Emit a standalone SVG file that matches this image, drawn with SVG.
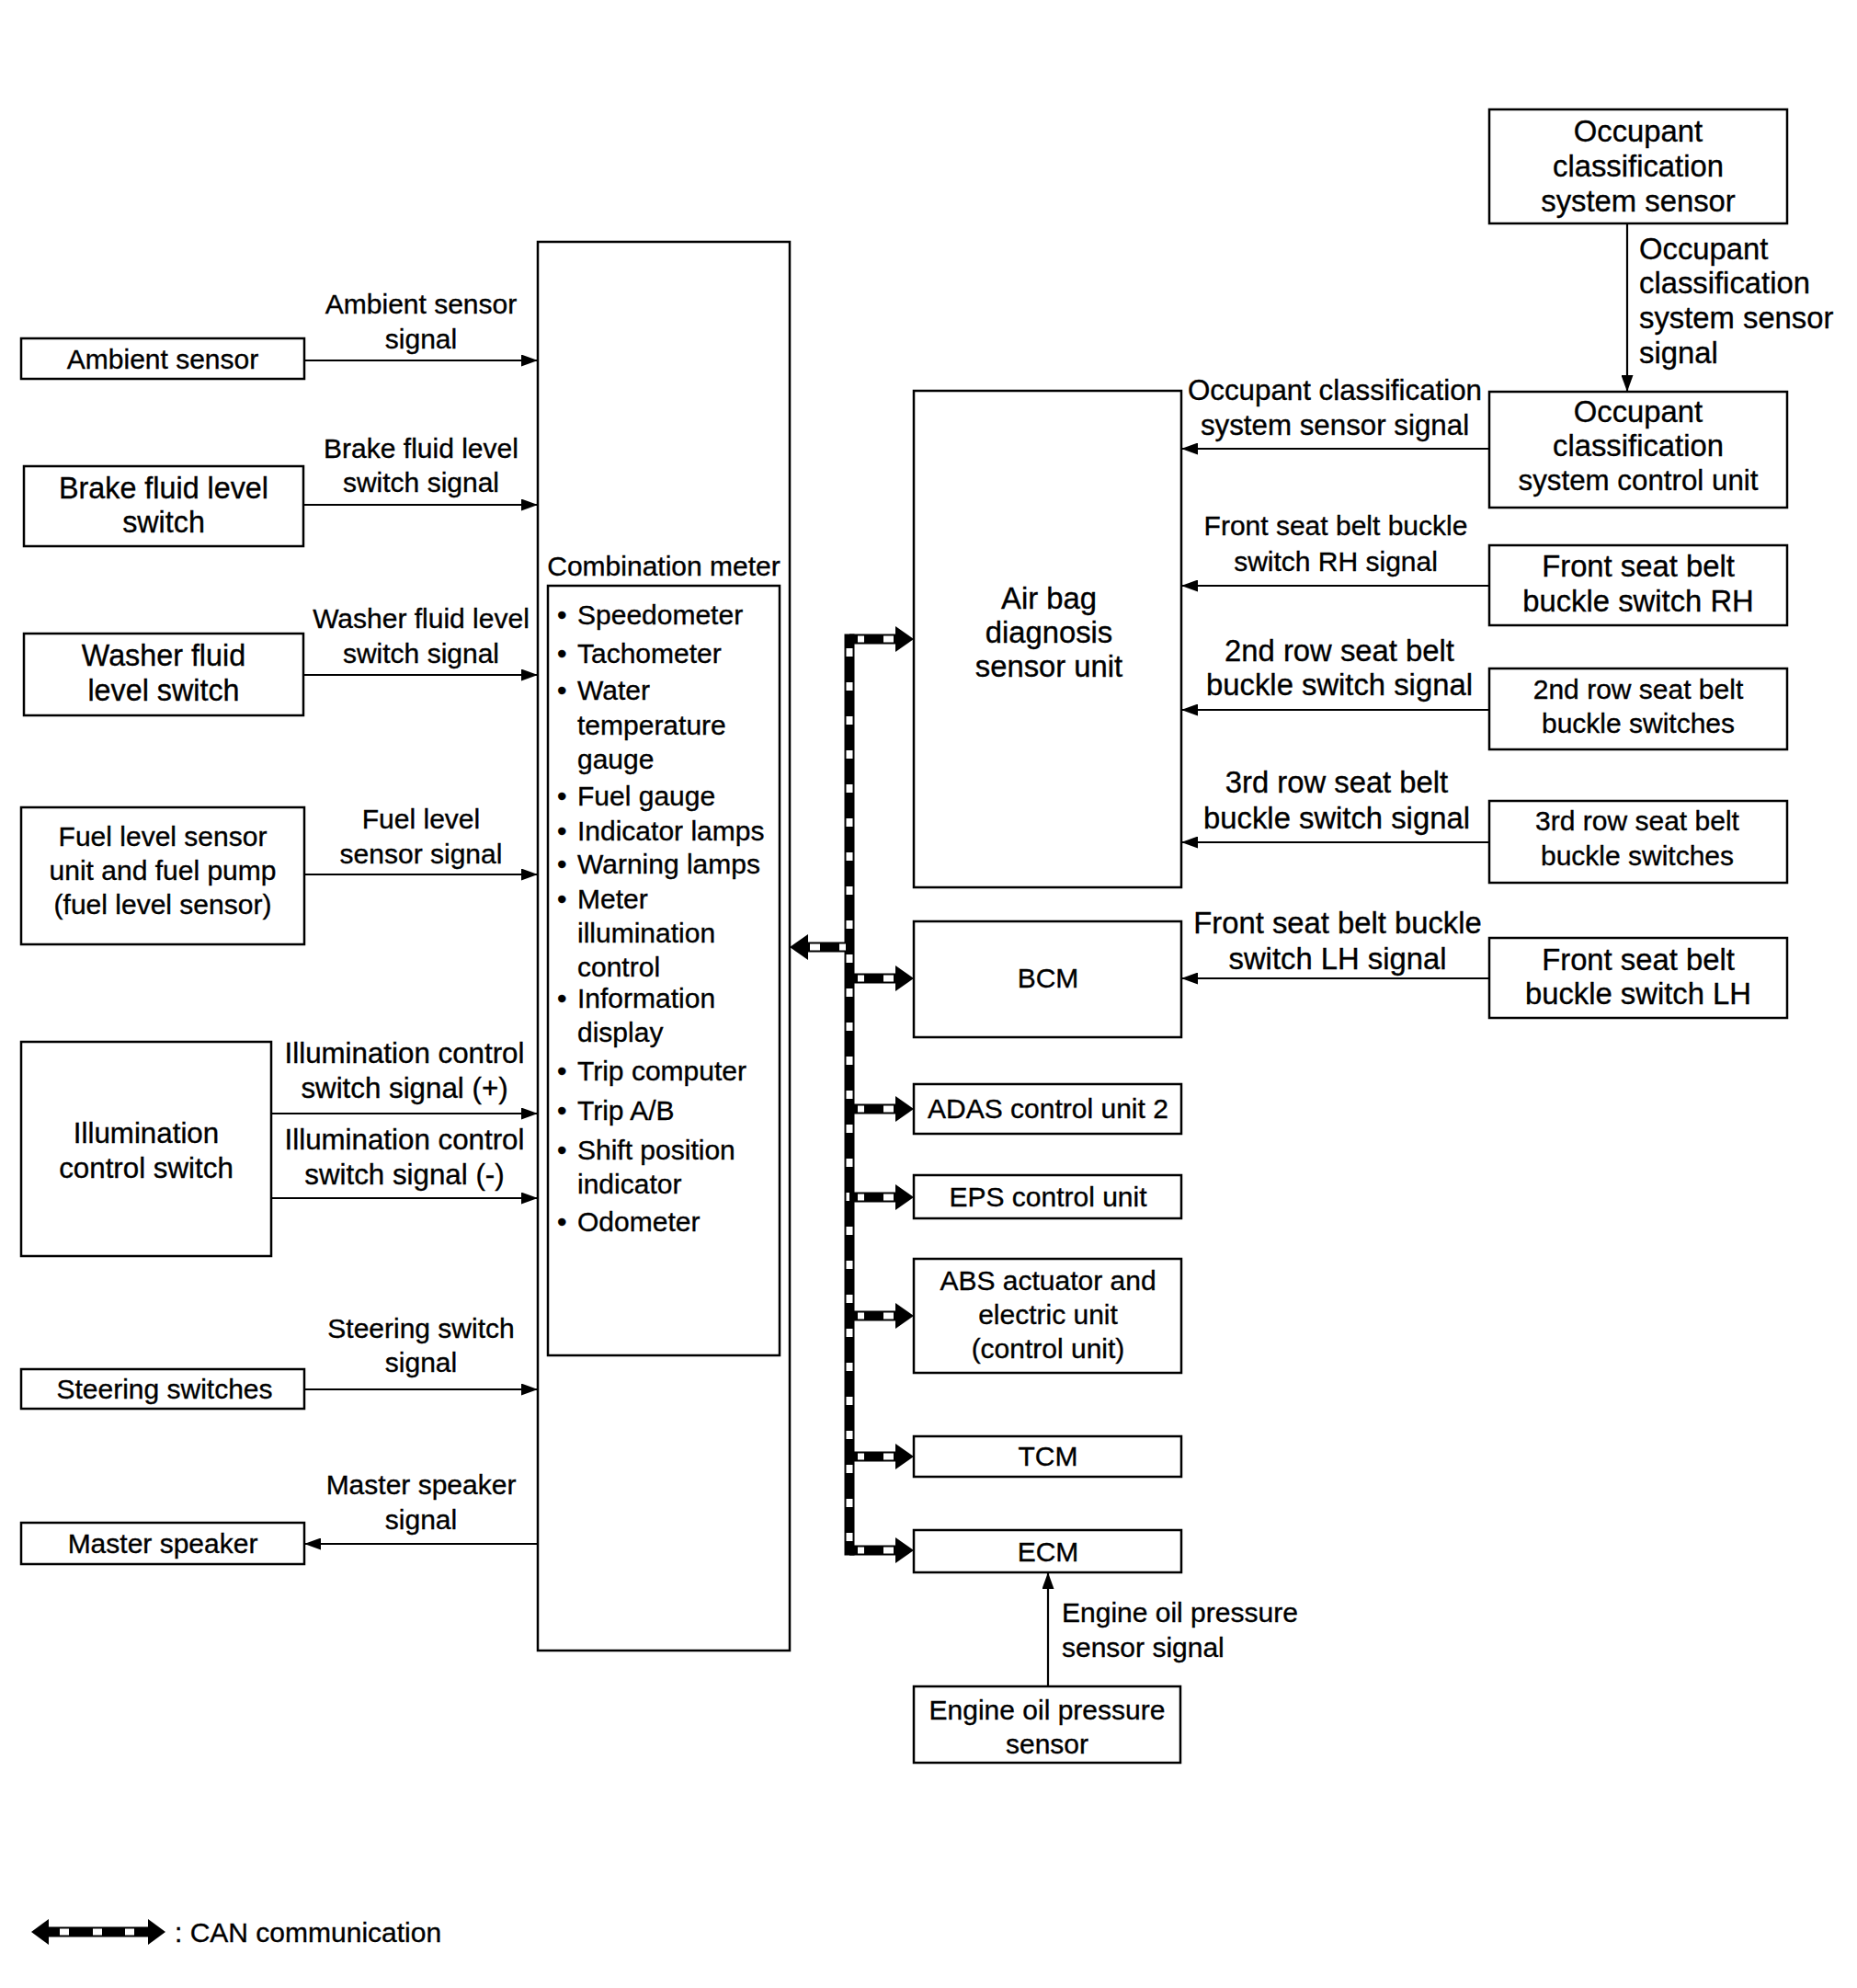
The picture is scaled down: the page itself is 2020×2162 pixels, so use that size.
<svg xmlns="http://www.w3.org/2000/svg" xmlns:xlink="http://www.w3.org/1999/xlink" width="2020" height="2162" viewBox="0 0 2020 2162">
<style>
text{font-family:"Liberation Sans",Arial,Helvetica,sans-serif;font-size:30px;fill:#000;stroke:#000;stroke-width:0.35}
.c{text-anchor:middle}
.s31{font-size:31.3px}
.s32{font-size:32.3px}
.s33{font-size:32.8px}
.box{fill:#fff;stroke:#000;stroke-width:2.5}
.ln{fill:none;stroke:#000;stroke-width:2.2;marker-end:url(#ah)}
</style>
<defs>
<marker id="ah" markerUnits="userSpaceOnUse" markerWidth="18" markerHeight="13" refX="18" refY="6.5" orient="auto">
<path d="M0,0 L18,6.5 L0,13 z" fill="#000"/>
</marker>
<g id="canR">
<rect x="0" y="-5.5" width="51" height="11" fill="#000"/>
<path d="M50,-14 L70,0 L50,14 z" fill="#000"/>
<rect x="9" y="-3.5" width="7" height="7" fill="#fff"/>
<rect x="37" y="-3.5" width="11" height="7" fill="#fff"/>
</g>
</defs>
<rect width="2020" height="2162" fill="#fff"/>

<g id="connectors">
<line class="ln" x1="331" y1="392" x2="585" y2="392"/>
<line class="ln" x1="330" y1="549" x2="585" y2="549"/>
<line class="ln" x1="330" y1="734" x2="585" y2="734"/>
<line class="ln" x1="331" y1="951" x2="585" y2="951"/>
<line class="ln" x1="295" y1="1211" x2="585" y2="1211"/>
<line class="ln" x1="295" y1="1303" x2="585" y2="1303"/>
<line class="ln" x1="331" y1="1511" x2="585" y2="1511"/>
<line class="ln" x1="585" y1="1679" x2="331" y2="1679"/>
<line class="ln" x1="1770" y1="243" x2="1770" y2="426"/>
<line class="ln" x1="1620" y1="488" x2="1285" y2="488"/>
<line class="ln" x1="1620" y1="637" x2="1285" y2="637"/>
<line class="ln" x1="1620" y1="772" x2="1285" y2="772"/>
<line class="ln" x1="1620" y1="916" x2="1285" y2="916"/>
<line class="ln" x1="1620" y1="1064" x2="1285" y2="1064"/>
<line class="ln" x1="1140" y1="1834" x2="1140" y2="1710"/>
<g id="can-bus">
<line x1="924" y1="689.5" x2="924" y2="1691.5" stroke="#000" stroke-width="11"/>
<line x1="924" y1="705" x2="924" y2="1680" stroke="#fff" stroke-width="7" stroke-dasharray="9 28"/>
<use xlink:href="#canR" x="924" y="695"/>
<use xlink:href="#canR" x="924" y="1064"/>
<use xlink:href="#canR" x="924" y="1206"/>
<use xlink:href="#canR" x="924" y="1302"/>
<use xlink:href="#canR" x="924" y="1431"/>
<use xlink:href="#canR" x="924" y="1584"/>
<use xlink:href="#canR" x="924" y="1686"/>
<use xlink:href="#canR" transform="translate(929,1030) scale(-1,1)"/>
</g>
</g>

<g id="labels">
<text class="c" x="458" y="341">Ambient sensor</text>
<text class="c" x="458" y="379">signal</text>
<text class="c" x="458" y="498">Brake fluid level</text>
<text class="c" x="458" y="535">switch signal</text>
<text class="c" x="458" y="683">Washer fluid level</text>
<text class="c" x="458" y="721">switch signal</text>
<text class="c" x="458" y="901">Fuel level</text>
<text class="c" x="458" y="939">sensor signal</text>
<text class="c s31" x="440" y="1156">Illumination control</text>
<text class="c s31" x="440" y="1194">switch signal (+)</text>
<text class="c s31" x="440" y="1250">Illumination control</text>
<text class="c s31" x="440" y="1288">switch signal (-)</text>
<text class="c" x="458" y="1455">Steering switch</text>
<text class="c" x="458" y="1492">signal</text>
<text class="c" x="458" y="1625">Master speaker</text>
<text class="c" x="458" y="1663">signal</text>
<text class="s33" x="1783" y="282">Occupant</text>
<text class="s33" x="1783" y="319">classification</text>
<text class="s33" x="1783" y="357">system sensor</text>
<text class="s33" x="1783" y="395">signal</text>
<text class="c s31" x="1452" y="435">Occupant classification</text>
<text class="c s31" x="1452" y="473">system sensor signal</text>
<text class="c" x="1453" y="582">Front seat belt buckle</text>
<text class="c" x="1453" y="621">switch RH signal</text>
<text class="c s33" x="1457" y="719">2nd row seat belt</text>
<text class="c s33" x="1457" y="756">buckle switch signal</text>
<text class="c s33" x="1454" y="862">3rd row seat belt</text>
<text class="c s33" x="1454" y="901">buckle switch signal</text>
<text class="c s33" x="1455" y="1015">Front seat belt buckle</text>
<text class="c s33" x="1455" y="1054">switch LH signal</text>
<text x="1155" y="1764">Engine oil pressure</text>
<text x="1155" y="1802">sensor signal</text>
</g>

<g id="ambient-sensor"><rect class="box" x="23" y="368" width="308" height="44"/><text class="c" x="177" y="401">Ambient sensor</text></g>
<g id="brake-fluid"><rect class="box" x="26" y="507" width="304" height="87"/><text class="c s32" x="178" y="542">Brake fluid level</text><text class="c s32" x="178" y="579">switch</text></g>
<g id="washer-fluid"><rect class="box" x="26" y="689" width="304" height="89"/><text class="c s32" x="178" y="724">Washer fluid</text><text class="c s32" x="178" y="762">level switch</text></g>
<g id="fuel-level"><rect class="box" x="23" y="878" width="308" height="149"/><text class="c" x="177" y="920">Fuel level sensor</text><text class="c" x="177" y="957">unit and fuel pump</text><text class="c" x="177" y="994">(fuel level sensor)</text></g>
<g id="illumination-switch"><rect class="box" x="23" y="1133" width="272" height="233"/><text class="c s31" x="159" y="1243">Illumination</text><text class="c s31" x="159" y="1281">control switch</text></g>
<g id="steering-switches"><rect class="box" x="23" y="1489" width="308" height="43"/><text class="c" x="179" y="1521">Steering switches</text></g>
<g id="master-speaker"><rect class="box" x="23" y="1656" width="308" height="45"/><text class="c" x="177" y="1689">Master speaker</text></g>

<g id="combination-meter">
<rect class="box" x="585" y="263" width="274" height="1532"/>
<text class="c" x="722" y="626">Combination meter</text>
<rect class="box" x="596" y="637" width="252" height="837"/>
<text x="606" y="679">•</text><text x="628" y="679">Speedometer</text>
<text x="606" y="721">•</text><text x="628" y="721">Tachometer</text>
<text x="606" y="761">•</text><text x="628" y="761">Water</text>
<text x="628" y="799">temperature</text>
<text x="628" y="836">gauge</text>
<text x="606" y="876">•</text><text x="628" y="876">Fuel gauge</text>
<text x="606" y="914">•</text><text x="628" y="914">Indicator lamps</text>
<text x="606" y="950">•</text><text x="628" y="950">Warning lamps</text>
<text x="606" y="988">•</text><text x="628" y="988">Meter</text>
<text x="628" y="1025">illumination</text>
<text x="628" y="1062">control</text>
<text x="606" y="1096">•</text><text x="628" y="1096">Information</text>
<text x="628" y="1133">display</text>
<text x="606" y="1175">•</text><text x="628" y="1175">Trip computer</text>
<text x="606" y="1218">•</text><text x="628" y="1218">Trip A/B</text>
<text x="606" y="1261">•</text><text x="628" y="1261">Shift position</text>
<text x="628" y="1298">indicator</text>
<text x="606" y="1339">•</text><text x="628" y="1339">Odometer</text>
</g>

<g id="airbag"><rect class="box" x="994" y="425" width="291" height="540"/><text class="c s33" x="1141" y="662">Air bag</text><text class="c s33" x="1141" y="699">diagnosis</text><text class="c s33" x="1141" y="736">sensor unit</text></g>
<g id="bcm"><rect class="box" x="994" y="1002" width="291" height="126"/><text class="c" x="1140" y="1074">BCM</text></g>
<g id="adas"><rect class="box" x="994" y="1179" width="291" height="54"/><text class="c" x="1140" y="1216">ADAS control unit 2</text></g>
<g id="eps"><rect class="box" x="994" y="1278" width="291" height="47"/><text class="c" x="1140" y="1312">EPS control unit</text></g>
<g id="abs"><rect class="box" x="994" y="1369" width="291" height="124"/><text class="c" x="1140" y="1403">ABS actuator and</text><text class="c" x="1140" y="1440">electric unit</text><text class="c" x="1140" y="1477">(control unit)</text></g>
<g id="tcm"><rect class="box" x="994" y="1562" width="291" height="44"/><text class="c" x="1140" y="1594">TCM</text></g>
<g id="ecm"><rect class="box" x="994" y="1664" width="291" height="46"/><text class="c" x="1140" y="1698">ECM</text></g>
<g id="engine-oil-sensor"><rect class="box" x="994" y="1834" width="290" height="83"/><text class="c" x="1139" y="1870">Engine oil pressure</text><text class="c" x="1139" y="1907">sensor</text></g>

<g id="occ-sensor"><rect class="box" x="1620" y="119" width="324" height="124"/><text class="c s33" x="1782" y="154">Occupant</text><text class="c s33" x="1782" y="192">classification</text><text class="c s33" x="1782" y="230">system sensor</text></g>
<g id="occ-control"><rect class="box" x="1620" y="426" width="324" height="126"/><text class="c s33" x="1782" y="459">Occupant</text><text class="c s33" x="1782" y="496">classification</text><text class="c s31" x="1782" y="533">system control unit</text></g>
<g id="belt-rh"><rect class="box" x="1620" y="593" width="324" height="87"/><text class="c s33" x="1782" y="627">Front seat belt</text><text class="c s33" x="1782" y="665">buckle switch RH</text></g>
<g id="belt-2nd"><rect class="box" x="1620" y="727" width="324" height="88"/><text class="c" x="1782" y="760">2nd row seat belt</text><text class="c" x="1782" y="797">buckle switches</text></g>
<g id="belt-3rd"><rect class="box" x="1620" y="871" width="324" height="89"/><text class="c" x="1781" y="903">3rd row seat belt</text><text class="c" x="1781" y="941">buckle switches</text></g>
<g id="belt-lh"><rect class="box" x="1620" y="1020" width="324" height="87"/><text class="c s33" x="1782" y="1055">Front seat belt</text><text class="c s33" x="1782" y="1092">buckle switch LH</text></g>

<g id="legend">
<rect x="52" y="2095.5" width="110" height="11" fill="#000"/>
<path d="M53,2087 L34,2101 L53,2115 z" fill="#000"/>
<path d="M161,2087 L180,2101 L161,2115 z" fill="#000"/>
<rect x="65" y="2097.5" width="10" height="7" fill="#fff"/>
<rect x="101" y="2097.5" width="10" height="7" fill="#fff"/>
<rect x="136" y="2097.5" width="10" height="7" fill="#fff"/>
<text x="190" y="2112">: CAN communication</text>
</g>
</svg>
